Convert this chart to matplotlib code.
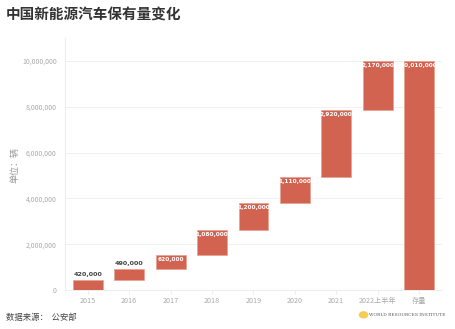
import matplotlib
matplotlib.use("Agg")
import matplotlib.pyplot as plt
from matplotlib.patches import Circle

plt.rcParams['font.family'] = ['Noto Sans CJK SC', 'DejaVu Sans']

categories = ['2015', '2016', '2017', '2018', '2019', '2020', '2021', '2022上半年', '存量']
increments = [420000, 490000, 620000, 1080000, 1200000, 1110000, 2920000, 2170000]
total = 10010000
yticks = [0, 2000000, 4000000, 6000000, 8000000, 10000000]

bar_color = '#D26351'

fig = plt.figure(figsize=(4.55, 3.29), dpi=100)
ax = fig.add_axes([0.143, 0.1185, 0.828, 0.766])

bottoms = []
cum = 0
for v in increments:
    bottoms.append(cum)
    cum += v
heights = increments + [total]
bots = bottoms + [0]
x = list(range(len(categories)))
ax.bar(x, heights, bottom=bots, width=0.72, color=bar_color, edgecolor='#E8A090', linewidth=0.5, zorder=3)

for i, (h, b) in enumerate(zip(heights, bots)):
    label = f'{h:,}'
    if i < 2:
        ax.text(i, b + h + 150000, label, ha='center', va='bottom', fontsize=4.6,
                fontweight='bold', color='#444444', family='DejaVu Sans', zorder=4)
    else:
        ax.text(i, b + h - 90000, label, ha='center', va='top', fontsize=4.2,
                fontweight='bold', color='white', family='DejaVu Sans', zorder=4)

ax.set_xlim(-0.55, len(categories) - 0.45)
ax.set_ylim(0, 11000000)
ax.set_yticks(yticks)
ax.set_yticklabels([f'{t:,}' for t in yticks])
ax.set_xticks(x)
ax.set_xticklabels(categories)
ax.tick_params(axis='y', length=0, labelsize=5, labelcolor='#AAAAAA', pad=6)
ax.tick_params(axis='x', length=3, color='#EEEEEE', labelsize=5.2, labelcolor='#AAAAAA', pad=2)
ax.grid(axis='y', color='#EEEEEE', linewidth=0.6, zorder=0)
for s in ['top', 'right']:
    ax.spines[s].set_visible(False)
ax.spines['left'].set_color('#EEEEEE')
ax.spines['bottom'].set_color('#EEEEEE')

fig.text(15 / 455, 1 - 165 / 329, '单位：辆', fontsize=6.5, color='#999999', rotation=90,
         ha='center', va='center')

fig.text(0.013, 0.955, '中国新能源汽车保有量变化', fontsize=10.5, fontweight='bold', color='#333333', va='center')
fig.text(0.013, 0.022, '数据来源：  公安部', fontsize=6, color='#444444', va='bottom')
fig.patches.append(Circle((0.799, 0.043), 0.009, transform=fig.transFigure, color='#F7CC55', figure=fig))
fig.text(0.81, 0.043, 'WORLD RESOURCES INSTITUTE', fontsize=3.2, color='#555555', va='center', family='DejaVu Serif')

fig.savefig('out.png', dpi=100)
